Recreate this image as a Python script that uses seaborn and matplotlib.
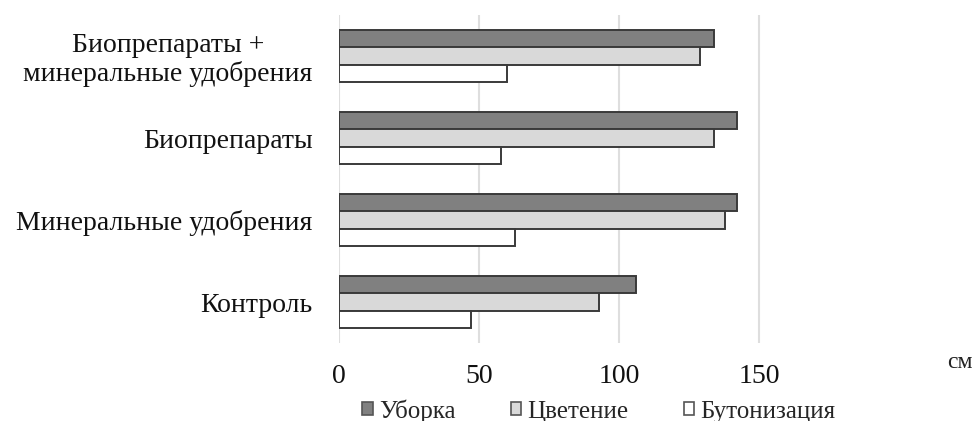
import matplotlib
matplotlib.use("Agg")
import matplotlib.pyplot as plt
import seaborn as sns
import pandas as pd
from matplotlib.patches import Patch

# Treatments (top to bottom) and growth stages
treatments = [
    "Биопрепараты +\nминеральные удобрения",
    "Биопрепараты",
    "Минеральные удобрения",
    "Контроль",
]
stages = ["Уборка", "Цветение", "Бутонизация"]

# Plant height, cm
harvest = [134, 142, 142, 106]
flowering = [129, 134, 138, 93]
budding = [60, 58, 63, 47]

stage_colors = ["#808080", "#d9d9d9", "#ffffff"]
x_ticks = [0, 50, 100, 150]
unit_label = "см"

rows = []
for t, h, f, b in zip(treatments, harvest, flowering, budding):
    rows.append({"treatment": t, "stage": stages[0], "height": h})
    rows.append({"treatment": t, "stage": stages[1], "height": f})
    rows.append({"treatment": t, "stage": stages[2], "height": b})
df = pd.DataFrame(rows)

sns.set_theme(style="white")
plt.rcParams["font.family"] = ["Liberation Serif", "DejaVu Serif"]

fig = plt.figure(figsize=(9.79, 4.21), dpi=100)
ax = fig.add_axes([339 / 979, 1 - 343 / 421, (787 - 339) / 979, (343 - 15) / 421])

sns.barplot(
    data=df, y="treatment", x="height", hue="stage",
    order=treatments, hue_order=stages,
    palette=stage_colors, orient="h", width=0.64,
    edgecolor="#3a3a3a", linewidth=1.4, saturation=1,
    legend=False, ax=ax, zorder=3,
)

ax.set_xlim(0, 160)
ax.set_xticks(x_ticks)
ax.set_xticklabels([str(v) for v in x_ticks], fontsize=20, color="#111111")
ax.xaxis.grid(True, color="#dedede", linewidth=1.5, zorder=0)
ax.yaxis.grid(False)
for s in ax.spines.values():
    s.set_visible(False)
ax.tick_params(axis="x", length=0, pad=15)
ax.tick_params(axis="y", length=0, pad=19)
for lbl in ax.get_yticklabels():
    lbl.set_fontsize(20)
    lbl.set_color("#111111")
    lbl.set_multialignment("center")
    lbl.set_linespacing(1.12)
ax.set_xlabel("")
ax.set_ylabel("")

fig.text(960 / 979, 1 - 362 / 421, unit_label, fontsize=17,
         ha="center", va="center", color="#222222")

handles = [Patch(facecolor=c, edgecolor="#555555", linewidth=1.2) for c in stage_colors]
fig.legend(
    handles, stages, loc="center", bbox_to_anchor=(599 / 979, 1 - 411 / 421),
    ncol=3, frameon=False, fontsize=18, handlelength=0.42, handleheight=0.42,
    handletextpad=0.25, columnspacing=2.2, borderaxespad=0, borderpad=0,
)

fig.savefig("out.png", dpi=100, facecolor="white")
